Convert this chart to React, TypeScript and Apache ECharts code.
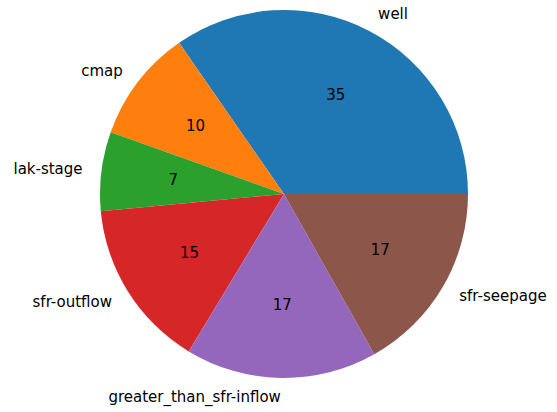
import React, { useEffect, useRef } from "react";
import * as echarts from "echarts";

const categories = ["well", "cmap", "lak-stage", "sfr-outflow", "greater_than_sfr-inflow", "sfr-seepage"];
const counts = [35, 10, 7, 15, 17, 17];
const colors = ["#1f77b4", "#ff7f0e", "#2ca02c", "#d62728", "#9467bd", "#8c564b"];

export default function App() {
  const ref = useRef<HTMLDivElement>(null);
  useEffect(() => {
    if (!ref.current) return;
    const chart = echarts.init(ref.current, null, { renderer: "svg" });
    const R = 184;
    const center = [284, 194];
    const data = categories.map((name, i) => ({ name, value: counts[i], itemStyle: { color: colors[i] } }));
    const font = { fontFamily: "DejaVu Sans", fontSize: 15, color: "#000" };
    chart.setOption({
      animation: false,
      backgroundColor: "#fff",
      series: [
        {
          type: "pie",
          radius: R,
          center,
          startAngle: 0,
          clockwise: false,
          avoidLabelOverlap: false,
          silent: true,
          itemStyle: { borderWidth: 0 },
          label: { show: true, position: "outside", formatter: "{b}", distanceToLabelLine: 0, ...font },
          labelLine: { show: false, length: 19, length2: 0 },
          emphasis: { disabled: true },
          data,
        },
        {
          type: "pie",
          radius: [33, R],
          center,
          startAngle: 0,
          clockwise: false,
          avoidLabelOverlap: false,
          silent: true,
          itemStyle: { color: "rgba(0,0,0,0)", borderWidth: 0 },
          label: { show: true, position: "inside", formatter: "{c}", ...font },
          labelLine: { show: false },
          emphasis: { disabled: true },
          data: categories.map((name, i) => ({ name, value: counts[i] })),
        },
      ],
    });
    return () => chart.dispose();
  }, []);
  return <div ref={ref} style={{ width: 557, height: 412, position: "absolute", left: 0, top: 0 }} />;
}
